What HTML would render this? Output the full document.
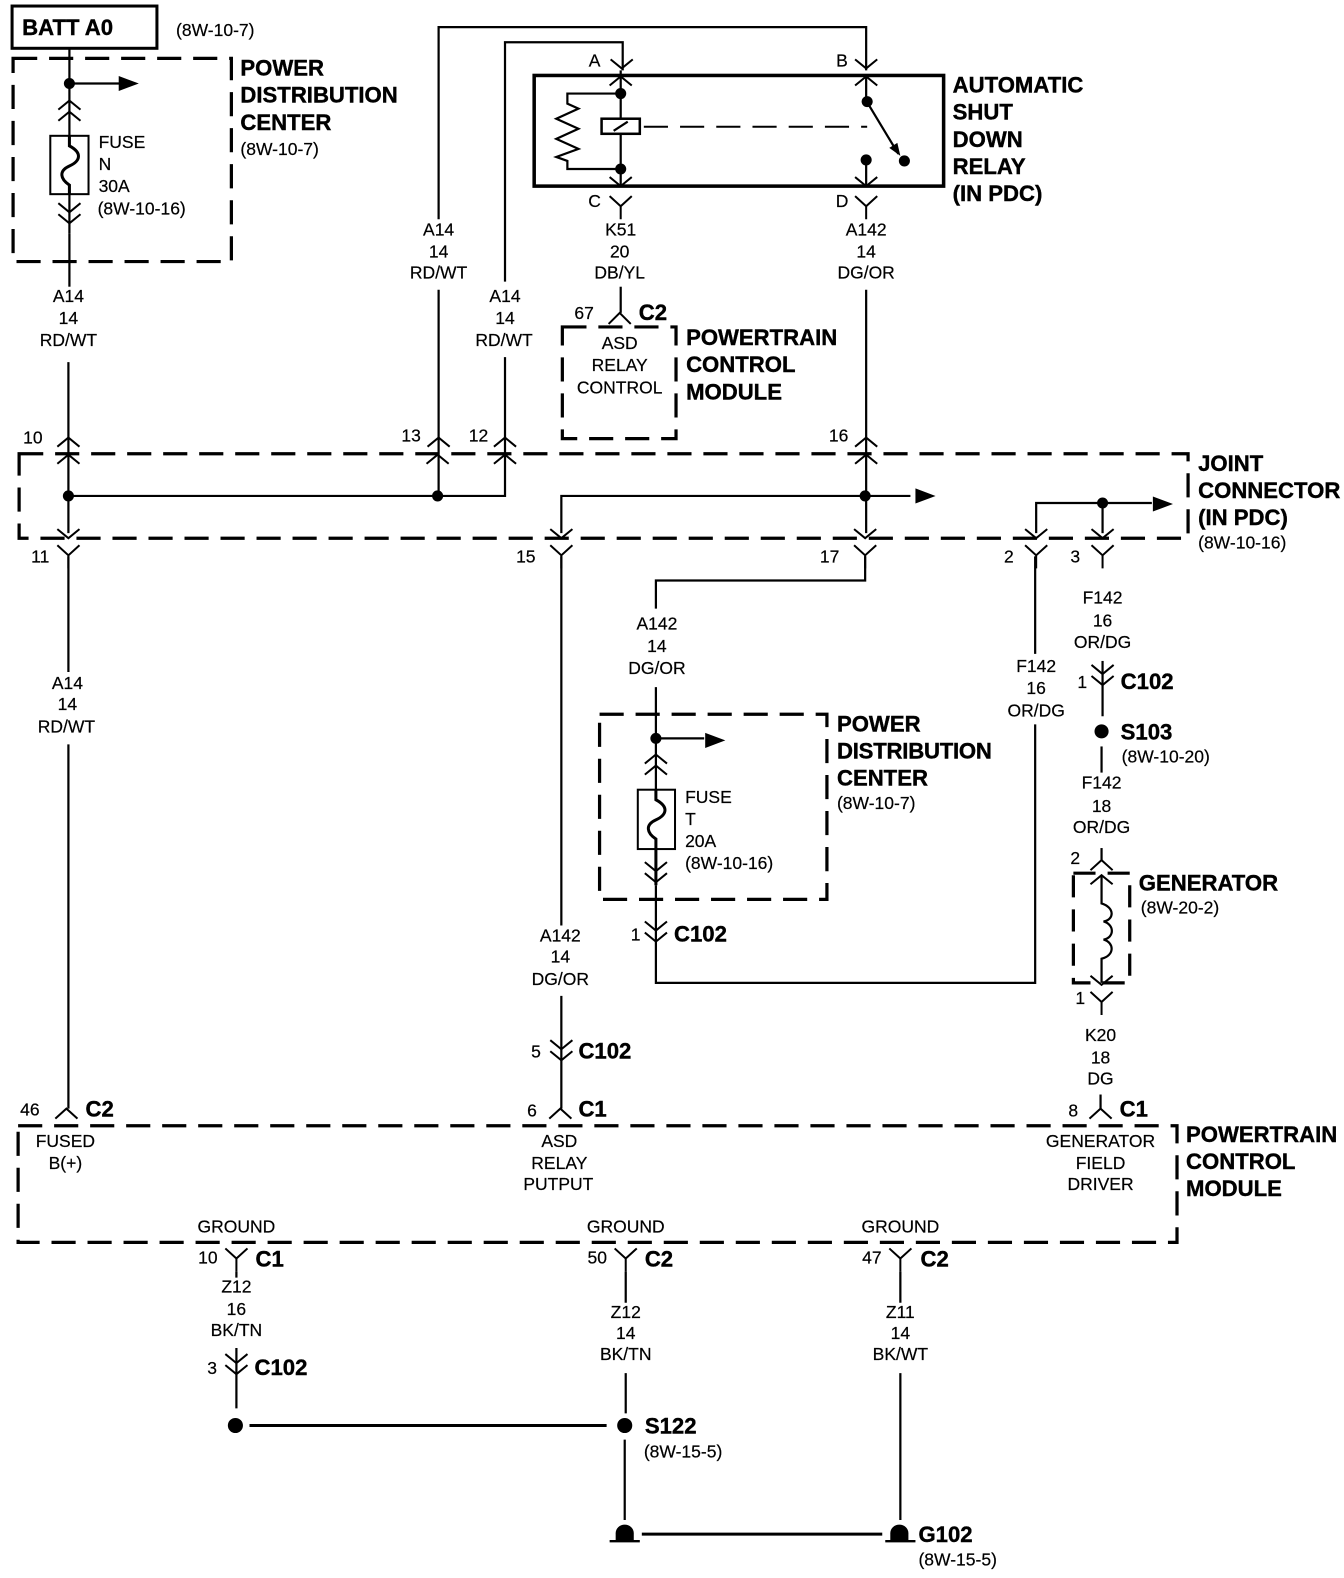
<!DOCTYPE html>
<html><head><meta charset="utf-8"><style>
html,body{margin:0;padding:0;background:#fff}
svg{display:block}
text{font-family:"Liberation Sans",sans-serif;font-size:17.4px;fill:#000;stroke:#000;stroke-width:.2}
.b{font-weight:bold;font-size:22px;fill:#000;stroke-width:.4}
.m{text-anchor:middle}
.w{fill:none;stroke:#000;stroke-width:2.2}
.h{fill:none;stroke:#000;stroke-width:3}
.t{fill:none;stroke:#000;stroke-width:3.2;stroke-dasharray:24 11.8}
.c{fill:none;stroke:#000;stroke-width:2}
</style></head><body>
<svg xmlns="http://www.w3.org/2000/svg" width="1344" height="1578" viewBox="0 0 1336 1568.6">
<defs>
<path id="u" class="c" d="M-11,9 L0,0 L11,9"/>
<path id="d" class="c" d="M-11,-9 L0,0 L11,-9"/>
<path id="y" class="c" d="M-11,-10 L0,0 L11,-10 M0,0 V13"/>
<path id="dd" class="c" d="M-11,-9 L0,0 L11,-9 M-11,2 L0,11 L11,2"/>
<path id="ar" d="M-20,-7.5 L0,0 L-20,7.5 Z"/>
</defs>

<!-- Batt -->
<rect x="12" y="6" width="144" height="42" fill="none" stroke="#000" stroke-width="3"/>
<text class="b" x="22" y="35">BATT A0</text>
<text x="175" y="36">(8W-10-7)</text>

<!-- dashed boxes -->
<rect class="t" x="13" y="58" width="217" height="202"/>
<rect class="t" x="559" y="325" width="113" height="111"/>
<rect class="t" x="19" y="451" width="1162" height="84"/>
<rect class="t" x="596" y="710" width="226" height="184"/>
<rect class="t" x="1067" y="868" width="56" height="109" style="stroke-dasharray:22 12"/>
<rect class="t" x="18" y="1119" width="1152" height="116"/>

<!-- relay box -->
<rect x="531" y="75" width="407" height="110" fill="none" stroke="#000" stroke-width="3.5"/>

<!-- Fuse N -->
<path class="w" d="M69,48 V232"/>
<path class="w" d="M69,83 H125"/><use href="#ar" x="138" y="83"/>
<circle cx="69" cy="83" r="5.5"/>
<use href="#u" x="69" y="100"/><use href="#u" x="69" y="111"/>
<rect x="50" y="135" width="38" height="58" fill="#fff" stroke="#000" stroke-width="2"/>
<path class="h" d="M69,135 V145 C82,152 80,160 69,165 C58,170 60,178 69,184 V193"/>
<use href="#dd" x="69" y="211"/>
<path class="w" d="M69,232 V285"/>
<text x="98" y="147">FUSE</text><text x="98" y="169">N</text><text x="98" y="191">30A</text><text x="97" y="213">(8W-10-16)</text>
<text class="b" x="239" y="75">POWER</text><text class="b" x="239" y="102">DISTRIBUTION</text><text class="b" x="239" y="129">CENTER</text>
<text x="239" y="154">(8W-10-7)</text>

<text class="m" x="68" y="300">A14</text><text class="m" x="68" y="322">14</text><text class="m" x="68" y="344">RD/WT</text>

<!-- Wires to joint top -->
<path class="w" d="M68,360 V530"/>
<path class="w" d="M436,218 V27 H861 V70"/>
<path class="w" d="M436,288 V493"/>
<path class="w" d="M502,280 V42 H619 V70"/>
<path class="w" d="M502,355 V493 H68"/>
<path class="w" d="M861,288 V530"/>
<path class="w" d="M558,530 V493 H905"/><use href="#ar" x="930" y="493"/>
<circle cx="68" cy="493" r="5.5"/><circle cx="435" cy="493" r="5.5"/><circle cx="860" cy="493" r="5.5"/>

<use href="#u" x="68" y="435"/><use href="#u" x="436" y="435"/><use href="#u" x="502" y="435"/><use href="#u" x="861" y="435"/>
<use href="#u" x="68" y="452"/><use href="#u" x="435" y="452"/><use href="#u" x="502" y="452"/><use href="#u" x="861" y="452"/>
<text x="23" y="441">10</text><text x="399" y="439">13</text><text x="466" y="439">12</text><text x="824" y="439">16</text>

<!-- Relay interior -->
<use href="#d" x="618" y="68"/><use href="#d" x="861" y="68"/>
<use href="#u" x="617" y="76"/><use href="#u" x="861" y="76"/>
<text class="m" x="591" y="66">A</text><text class="m" x="837" y="66">B</text>
<text class="m" x="591" y="206">C</text><text class="m" x="837" y="206">D</text>
<path class="w" d="M617,70 V118 M617,133 V185"/>
<path class="w" d="M617,93 H564 V103 L575,108 L553,118 L575,128 L553,138 L575,148 L553,156 L564,160 V168 H617"/>
<circle cx="617" cy="93" r="5.5"/><circle cx="617" cy="168" r="5.5"/>
<rect x="598" y="118" width="38" height="15" fill="#fff" stroke="#000" stroke-width="2.5"/>
<path class="w" d="M610,130 L624,121"/>
<path d="M640,126 H862" fill="none" stroke="#000" stroke-width="2" stroke-dasharray="24 12"/>
<path class="w" d="M861,75 V100 L893,153"/>
<path d="M895,155 L884,147 L892,142 Z"/>
<circle cx="862" cy="101" r="5.5"/><circle cx="899" cy="160" r="5.5"/><circle cx="861" cy="159" r="5.5"/>
<path class="w" d="M861,159 V185"/>
<use href="#d" x="617" y="185"/><use href="#d" x="861" y="185"/>
<use href="#y" x="617" y="205"/><use href="#y" x="861" y="205"/>
<text class="b" x="947" y="92">AUTOMATIC</text><text class="b" x="947" y="119">SHUT</text><text class="b" x="947" y="146">DOWN</text><text class="b" x="947" y="173">RELAY</text><text class="b" x="947" y="200">(IN PDC)</text>

<text class="m" x="436" y="234">A14</text><text class="m" x="436" y="256">14</text><text class="m" x="436" y="277">RD/WT</text>
<text class="m" x="502" y="300">A14</text><text class="m" x="502" y="322">14</text><text class="m" x="501" y="344">RD/WT</text>
<text class="m" x="617" y="234">K51</text><text class="m" x="616" y="256">20</text><text class="m" x="616" y="277">DB/YL</text>
<text class="m" x="861" y="234">A142</text><text class="m" x="861" y="256">14</text><text class="m" x="861" y="277">DG/OR</text>

<!-- PCM ASD -->
<path class="w" d="M617,285 V311"/>
<path class="c" d="M605,322 L616,311 L627,322"/>
<text x="571" y="317">67</text><text class="b" x="635" y="318">C2</text>
<text class="m" x="616" y="347">ASD</text><text class="m" x="616" y="369">RELAY</text><text class="m" x="616" y="391">CONTROL</text>
<text class="b" x="682" y="343">POWERTRAIN</text><text class="b" x="682" y="370">CONTROL</text><text class="b" x="682" y="397">MODULE</text>

<!-- Joint right -->
<path class="w" d="M1030,530 V500 H1145"/><use href="#ar" x="1166" y="501"/>
<path class="w" d="M1096,500 V530"/>
<circle cx="1096" cy="500" r="5.5"/>
<text class="b" x="1191" y="468">JOINT</text><text class="b" x="1191" y="495">CONNECTOR</text><text class="b" x="1191" y="522">(IN PDC)</text><text x="1191" y="545">(8W-10-16)</text>

<!-- joint bottom connectors -->
<use href="#d" x="68" y="535"/><use href="#d" x="558" y="535"/><use href="#d" x="860" y="535"/><use href="#d" x="1030" y="535"/><use href="#d" x="1096" y="535"/>
<use href="#y" x="68" y="552"/><use href="#y" x="558" y="552"/><use href="#y" x="860" y="552"/><use href="#y" x="1030" y="552"/><use href="#y" x="1096" y="552"/>
<text x="31" y="559">11</text><text x="513" y="559">15</text><text x="815" y="559">17</text><text x="998" y="559">2</text><text x="1064" y="559">3</text>

<!-- Left lower -->
<path class="w" d="M68,553 V668 M68,740 V1102"/>
<text class="m" x="67" y="685">A14</text><text class="m" x="67" y="706">14</text><text class="m" x="66" y="728">RD/WT</text>
<path class="c" d="M55,1112 L66,1102 L77,1112"/>
<text x="20" y="1109">46</text><text class="b" x="85" y="1110">C2</text>

<!-- Mid -->
<path class="w" d="M558,553 V920 M558,990 V1102"/>
<text class="m" x="557" y="936">A142</text><text class="m" x="557" y="957">14</text><text class="m" x="557" y="979">DG/OR</text>
<use href="#dd" x="558" y="1043"/>
<text x="528" y="1051">5</text><text class="b" x="575" y="1052">C102</text>
<path class="c" d="M546,1112 L557,1102 L568,1112"/>
<text x="524" y="1110">6</text><text class="b" x="575" y="1110">C1</text>

<!-- 17 -->
<path class="w" d="M860,553 V577 H652 V605"/>
<text class="m" x="653" y="626">A142</text><text class="m" x="653" y="648">14</text><text class="m" x="653" y="670">DG/OR</text>
<path class="w" d="M652,683 V860"/>
<path class="w" d="M652,734 H700"/><use href="#ar" x="721" y="736"/>
<circle cx="652" cy="734" r="5.5"/>
<use href="#u" x="652" y="750"/><use href="#u" x="652" y="761"/>
<rect x="634" y="785" width="37" height="59" fill="#fff" stroke="#000" stroke-width="2"/>
<path class="h" d="M652,785 V795 C665,802 663,810 652,815 C641,820 643,828 652,834 V880"/>
<use href="#dd" x="652" y="866"/>
<path class="w" d="M652,880 V977 H1029 V720"/>
<path class="w" d="M1029,650 V553"/>
<use href="#dd" x="652" y="925"/>
<text x="627" y="935">1</text><text class="b" x="670" y="936">C102</text>
<text x="681" y="798">FUSE</text><text x="681" y="820">T</text><text x="681" y="842">20A</text><text x="681" y="864">(8W-10-16)</text>
<text class="b" x="832" y="727">POWER</text><text class="b" x="832" y="754" textLength="154">DISTRIBUTION</text><text class="b" x="832" y="781">CENTER</text>
<text x="832" y="804">(8W-10-7)</text>
<text class="m" x="1030" y="668">F142</text><text class="m" x="1030" y="690">16</text><text class="m" x="1030" y="712">OR/DG</text>

<!-- Right -->
<text class="m" x="1096" y="600">F142</text><text class="m" x="1096" y="623">16</text><text class="m" x="1096" y="644">OR/DG</text>
<path class="w" d="M1096,657 V712"/>
<use href="#dd" x="1096" y="670"/>
<text x="1071" y="684">1</text><text class="b" x="1114" y="685">C102</text>
<circle cx="1095" cy="727" r="7"/>
<text class="b" x="1114" y="735">S103</text><text x="1115" y="758">(8W-10-20)</text>
<path class="w" d="M1095,742 V768"/>
<text class="m" x="1095" y="784">F142</text><text class="m" x="1095" y="807">18</text><text class="m" x="1095" y="828">OR/DG</text>
<path class="w" d="M1095,843 V855"/>
<path class="c" d="M1084,865 L1095,855 L1106,865"/>
<text x="1064" y="859">2</text>
<use href="#u" x="1095" y="870"/>
<path class="w" d="M1095,870 V898 C1108,902 1108,914 1097,916 C1108,919 1108,932 1097,934 C1108,937 1108,950 1095,953 V977"/>
<use href="#d" x="1095" y="979"/><use href="#y" x="1095" y="996"/>
<text x="1069" y="998">1</text>
<text class="b" x="1132" y="885">GENERATOR</text><text x="1134" y="908">(8W-20-2)</text>
<text class="m" x="1094" y="1035">K20</text><text class="m" x="1094" y="1057">18</text><text class="m" x="1094" y="1078">DG</text>
<path class="w" d="M1094,1088 V1102"/>
<path class="c" d="M1083,1112 L1094,1102 L1105,1112"/>
<text x="1062" y="1110">8</text><text class="b" x="1113" y="1110">C1</text>

<!-- PCM -->
<text class="m" x="65" y="1140">FUSED</text><text class="m" x="65" y="1162">B(+)</text>
<text class="m" x="556" y="1140">ASD</text><text class="m" x="556" y="1162">RELAY</text><text class="m" x="555" y="1183">PUTPUT</text>
<text class="m" x="1094" y="1140">GENERATOR</text><text class="m" x="1094" y="1162">FIELD</text><text class="m" x="1094" y="1183">DRIVER</text>
<text class="b" x="1179" y="1135">POWERTRAIN</text><text class="b" x="1179" y="1162">CONTROL</text><text class="b" x="1179" y="1189">MODULE</text>
<text class="m" x="235" y="1225">GROUND</text><text class="m" x="622" y="1225">GROUND</text><text class="m" x="895" y="1225">GROUND</text>
<use href="#y" x="235" y="1251"/><use href="#y" x="622" y="1251"/><use href="#y" x="895" y="1251"/>
<text x="197" y="1256">10</text><text class="b" x="254" y="1259">C1</text>
<text x="584" y="1256">50</text><text class="b" x="641" y="1259">C2</text>
<text x="857" y="1256">47</text><text class="b" x="915" y="1259">C2</text>

<text class="m" x="235" y="1285">Z12</text><text class="m" x="235" y="1307">16</text><text class="m" x="235" y="1328">BK/TN</text>
<text class="m" x="622" y="1310">Z12</text><text class="m" x="622" y="1331">14</text><text class="m" x="622" y="1352">BK/TN</text>
<text class="m" x="895" y="1310">Z11</text><text class="m" x="895" y="1331">14</text><text class="m" x="895" y="1352">BK/WT</text>

<path class="w" d="M235,1264 V1270 M235,1340 V1400"/>
<use href="#dd" x="235" y="1355"/>
<text x="206" y="1366">3</text><text class="b" x="253" y="1367">C102</text>
<path class="w" d="M622,1264 V1295 M622,1365 V1405 M621,1431 V1511"/>
<path class="w" d="M895,1264 V1295 M895,1365 V1511"/>
<path class="h" d="M248,1417 H603"/>
<circle cx="234" cy="1417" r="7.5"/><circle cx="621" cy="1417" r="7.5"/>
<text class="b" x="641" y="1425">S122</text><text x="640" y="1449">(8W-15-5)</text>
<path d="M612,1531 V1524 A9,8.5 0 0 1 630,1524 V1531 Z"/>
<path d="M606,1532 H636 M880,1532 H910" stroke="#000" stroke-width="2.4"/>
<path d="M885,1531 V1524 A9,8.5 0 0 1 903,1524 V1531 Z"/>
<path class="h" d="M638,1525 H877"/>
<text class="b" x="913" y="1533">G102</text><text x="913" y="1556">(8W-15-5)</text>
</svg>
</body></html>
